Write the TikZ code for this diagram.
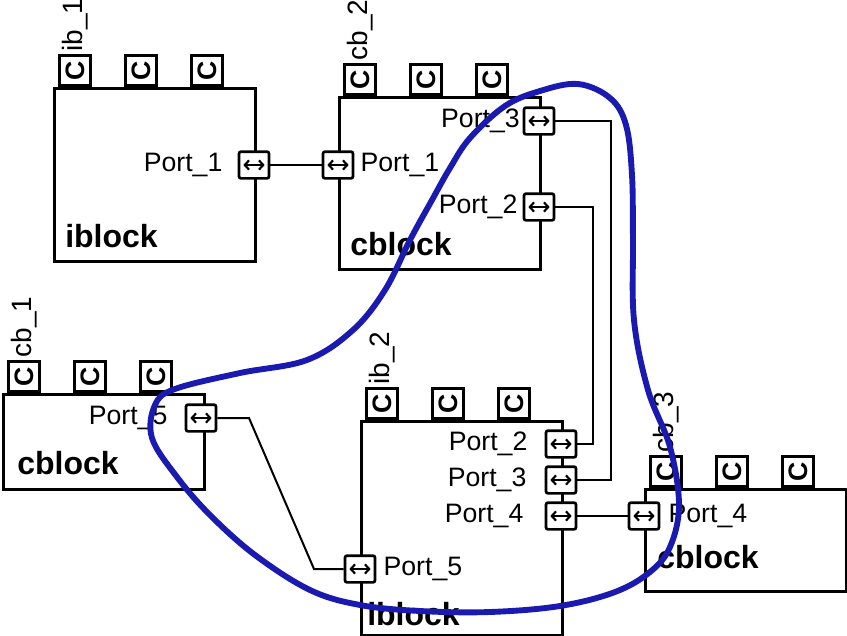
\documentclass[tikz,border=0pt]{standalone}
\usepackage{fontspec}
\setmainfont{Liberation Sans}
\usetikzlibrary{positioning, arrows.meta}
\definecolor{hullblue}{RGB}{26,26,176}

\begin{document}
\begin{tikzpicture}[x=0.75pt, y=-0.75pt,
        blockbox/.style={draw, line width=2.1pt, anchor=north west, minimum width=150.75pt, inner sep=0pt},
        tab/.style={draw, line width=2pt, anchor=south west, minimum width=23.25pt, minimum height=22.5pt, inner sep=0pt, font=\fontsize{20}{20}\selectfont\bfseries},
        tag/.style={rotate=90, anchor=west, inner sep=2pt, font=\fontsize{21}{21}\selectfont},
        portbox/.style={draw, fill=white, line width=2pt, rounded corners=1.5pt, minimum width=22.5pt, minimum height=20pt, inner sep=0pt,
            path picture={\draw[{Straight Barb[length=3.2pt,width=7pt]}-{Straight Barb[length=3.2pt,width=7pt]}, line width=1.6pt]
                ([xshift=-8pt]path picture bounding box.center) -- ([xshift=8pt]path picture bounding box.center);}},
        portlbl/.style={inner sep=0pt, font=\fontsize{20}{20}\selectfont},
        blkname/.style={anchor=base west, inner sep=0pt, font=\fontsize{24}{24}\selectfont\bfseries},
        wire/.style={line width=1.5pt},
        hull/.style={line width=4.4pt, hullblue}
    ]
    \useasboundingbox (0,0) rectangle (847,636);

    % Blocks
    \node[blockbox, minimum height=129.75pt] (ib1) at (53,87) {};
    \node[blockbox, minimum height=129pt] (cb2) at (338,96) {};
    \node[blockbox, minimum height=71.25pt] (cb1) at (2,393) {};
    \node[blockbox, minimum height=160.5pt] (ib2) at (360,420) {};
    \node[blockbox, minimum height=76.5pt] (cb3) at (644,488) {};

    % Tabs with C on top of each block
    \foreach \blk in {ib1,cb2,cb1,ib2,cb3}
        \foreach \dx [count=\i] in {3.75,53.25,102.75}
            \node[tab] (\blk t\i) at ([xshift=\dx pt]\blk.north west) {\rotatebox{90}{C}};

    % Instance names
    \node[tag] at (ib1t1.north) {ib\_1};
    \node[tag] at (cb2t1.north) {cb\_2};
    \node[tag] at (cb1t1.north) {cb\_1};
    \node[tag] at (ib2t1.north) {ib\_2};
    \node[tag] at (cb3t1.north) {cb\_3};

    % Block type names
    \node[blkname] at (65,247) {iblock};
    \node[blkname] at (350,255) {cblock};
    \node[blkname] at (17,474) {cblock};
    \node[blkname] at (367,625) {iblock};
    \node[blkname] at (657,568) {cblock};

    % Ports
    \node[portbox] (ib1p1) at (254,165) {};
    \node[portbox] (cb2p1) at (338,165) {};
    \node[portbox] (cb2p3) at (539,121) {};
    \node[portbox] (cb2p2) at (539,207) {};
    \node[portbox] (cb1p5) at (201,418) {};
    \node[portbox] (ib2p2) at (561,444) {};
    \node[portbox] (ib2p3) at (561,480) {};
    \node[portbox] (ib2p4) at (561,516) {};
    \node[portbox] (ib2p5) at (360,569) {};
    \node[portbox] (cb3p4) at (644,516) {};

    % Port labels
    \node[portlbl, left=11.25pt of ib1p1] {Port\_1};
    \node[portlbl, right=4.5pt of cb2p1] {Port\_1};
    \node[portlbl, left=2pt of cb2p3] {Port\_3};
    \node[portlbl, left=3.75pt of cb2p2] {Port\_2};
    \node[portlbl, left=12.75pt of cb1p5] {Port\_5};
    \node[portlbl, left=12.75pt of ib2p2] {Port\_2};
    \node[portlbl, left=13.5pt of ib2p3] {Port\_3};
    \node[portlbl, left=15.75pt of ib2p4] {Port\_4};
    \node[portlbl, right=5.25pt of ib2p5] {Port\_5};
    \node[portlbl, right=6pt of cb3p4] {Port\_4};

    % Wires
    \coordinate (k3) at (611,300);
    \coordinate (k2) at (593,300);
    \coordinate (k5a) at (249,418);
    \coordinate (k5b) at (314,569);
    \draw[wire] (ib1p1) -- (cb2p1);
    \draw[wire] (cb2p3) -| (k3) |- (ib2p3);
    \draw[wire] (cb2p2) -| (k2) |- (ib2p2);
    \draw[wire] (ib2p4) -- (cb3p4);
    \draw[wire] (cb1p5) -- (k5a) -- (k5b) -- (ib2p5);

    % Selection outline
    \draw[hull] plot[smooth cycle, tension=0.6] coordinates {
        (578,84) (610,98) (626,125) (632,175) (633,240) (634,320) (648,390)
        (670,447) (679,505) (670,547) (650,572) (615,592) (560,606) (490,612)
        (420,611) (360,605) (310,590) (255,555) (210,515) (177,477) (152,438)
        (155,405) (175,389) (240,373) (307,360) (353,330) (385,290) (410,240)
        (432,200) (450,168) (470,138) (505,106) (540,91)};
\end{tikzpicture}
\end{document}
